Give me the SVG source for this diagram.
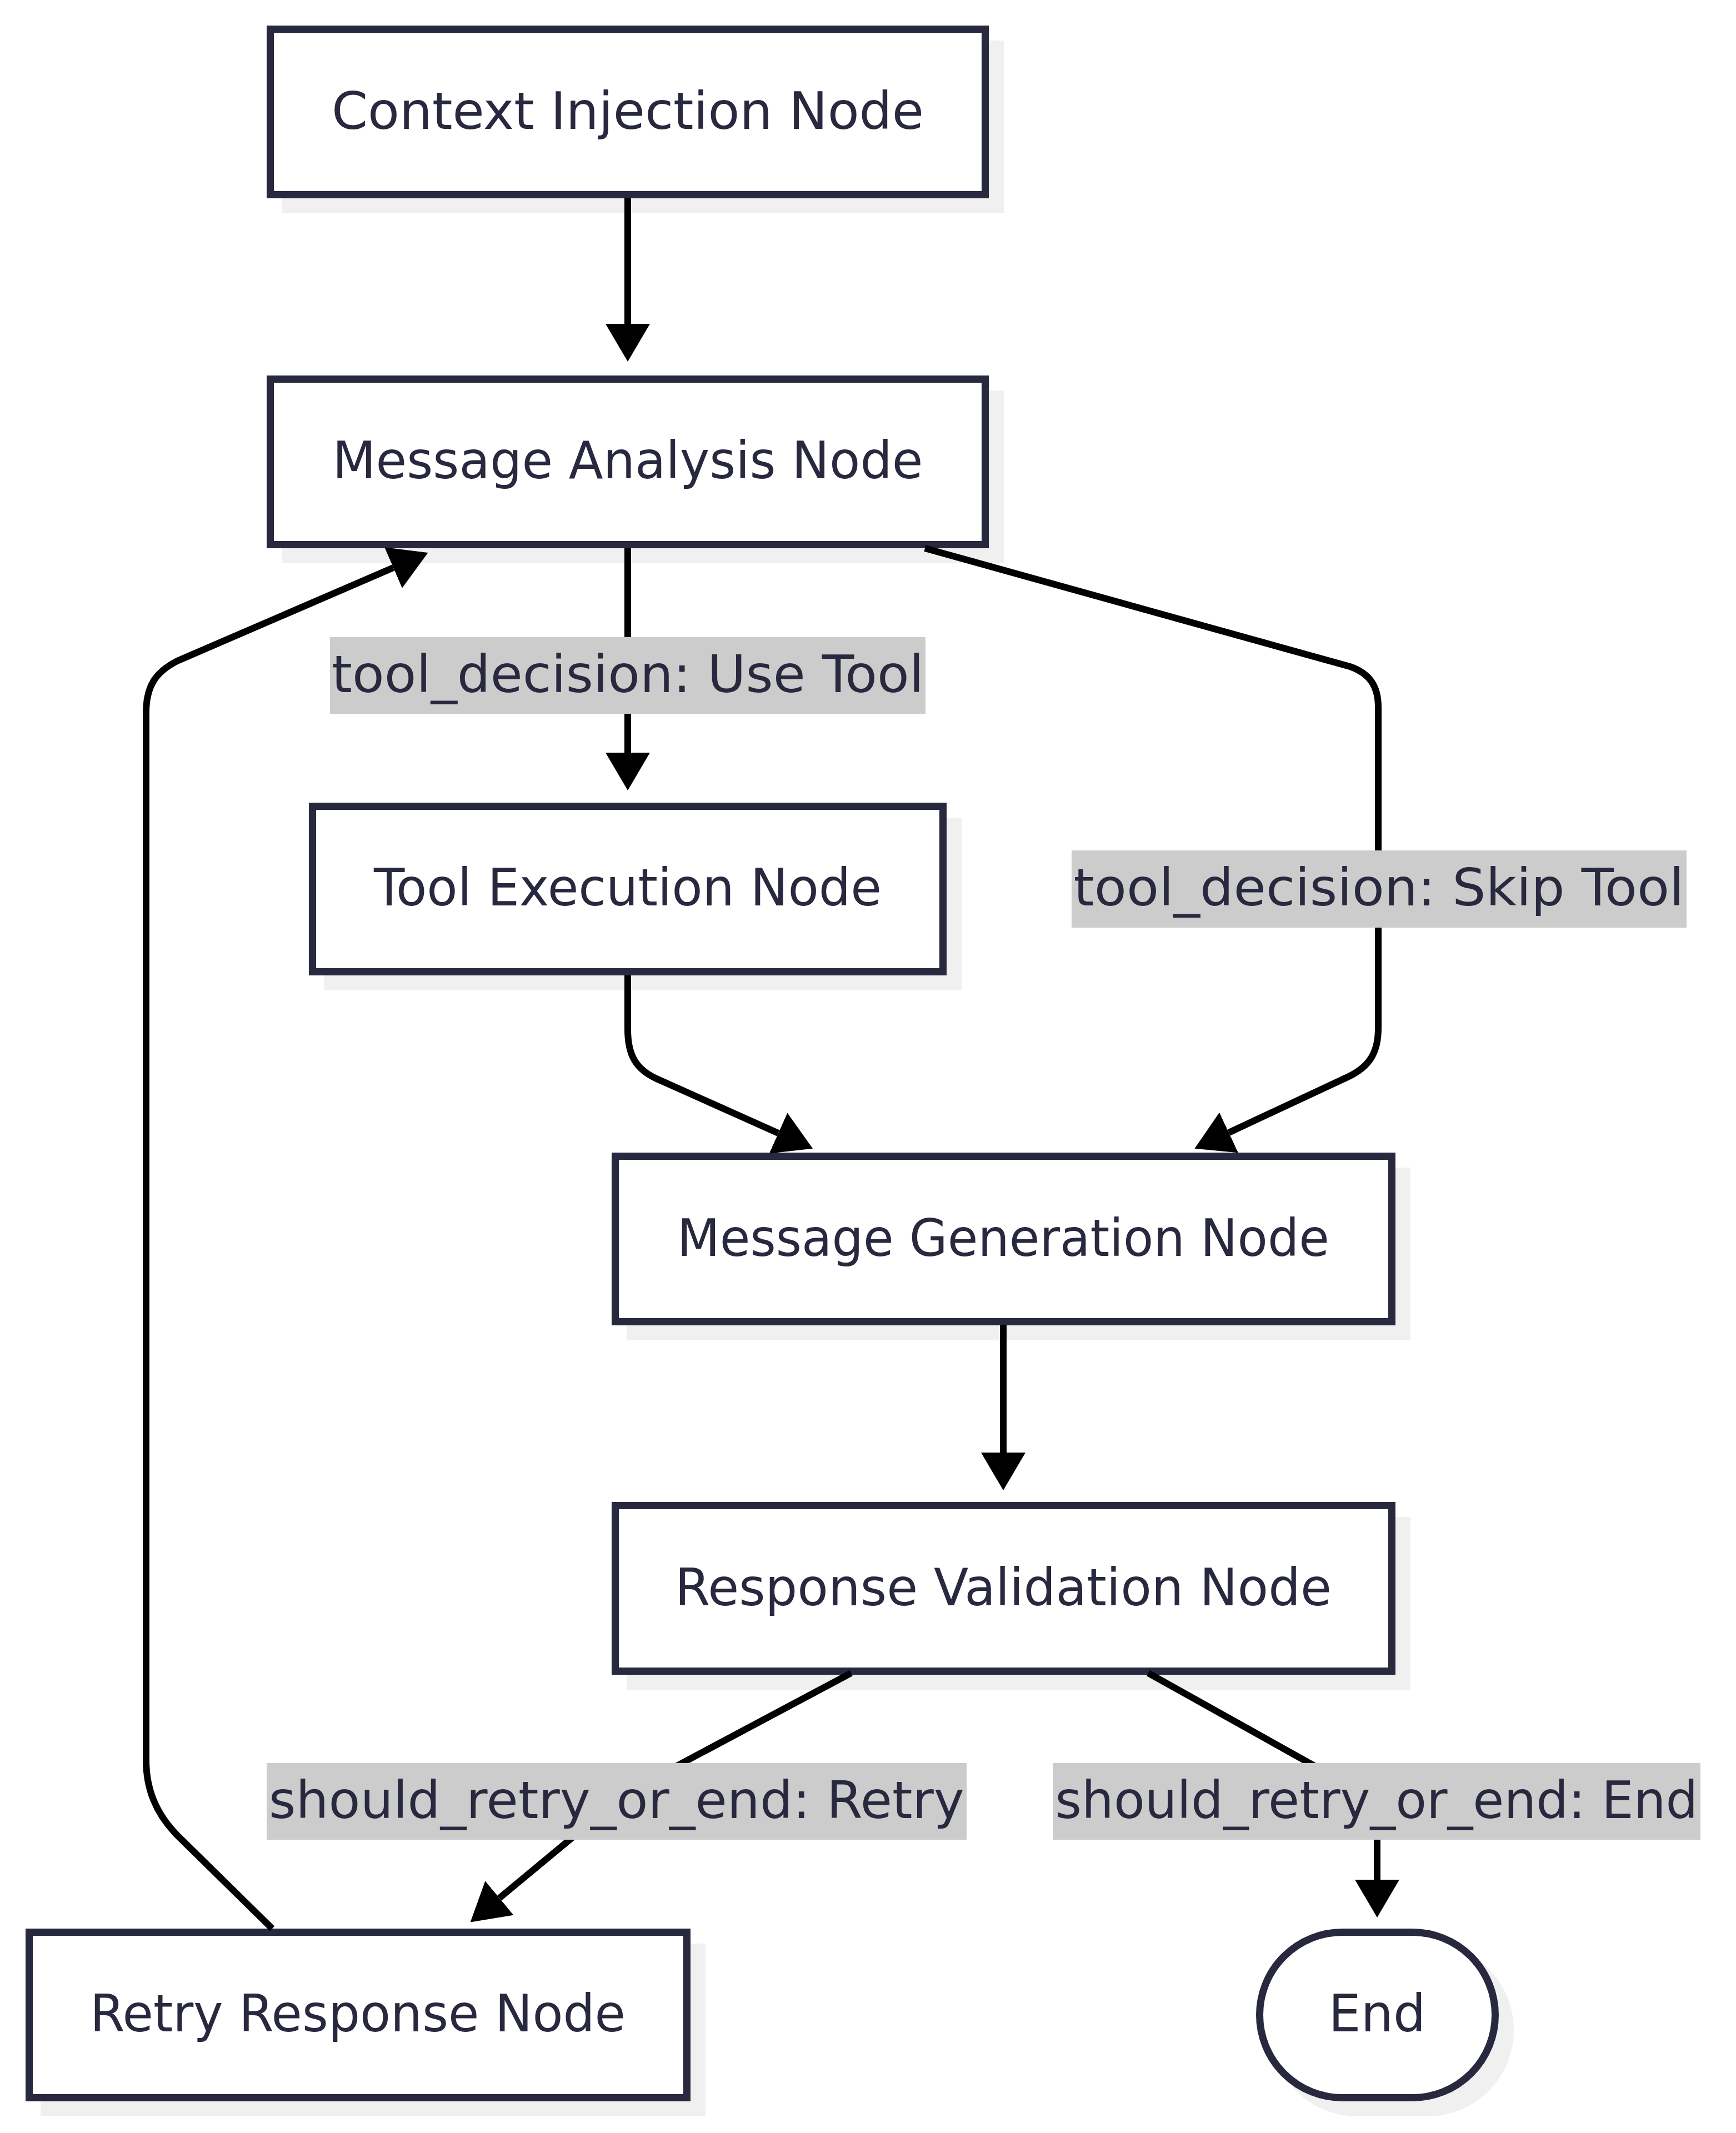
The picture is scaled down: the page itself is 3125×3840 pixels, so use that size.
<svg xmlns="http://www.w3.org/2000/svg" width="3125" height="3840" viewBox="0 0 3125 3840">
<style>
.shadow{fill:#f0f0f0;stroke:none}
.box{fill:#ffffff;stroke:#28283e;stroke-width:13}
.txt{font-family:"DejaVu Sans","Liberation Sans",sans-serif;font-size:92px;fill:#28283e;text-anchor:middle}
.edge{fill:none;stroke:#000000;stroke-width:12}
.lblbg{fill:#cccccc;stroke:none}
</style>
<defs>
<marker id="arrow" viewBox="0 0 10 10" refX="0" refY="5" markerUnits="userSpaceOnUse" markerWidth="68" markerHeight="80" preserveAspectRatio="none" orient="auto">
<path d="M0,0 L10,5 L0,10 z" fill="#000000"/>
</marker>
</defs>
<rect width="3125" height="3840" fill="#ffffff"/>

<g id="node-context-injection">
<rect class="shadow" x="507" y="73" width="1300" height="311"/>
<rect class="box" x="486.5" y="52.5" width="1287" height="298"/>
<text class="txt" x="1130" y="232" textLength="1066" lengthAdjust="spacingAndGlyphs">Context Injection Node</text>
</g>
<g id="node-message-analysis">
<rect class="shadow" x="507" y="703" width="1300" height="311"/>
<rect class="box" x="486.5" y="682.5" width="1287" height="298"/>
<text class="txt" x="1130" y="861" textLength="1063" lengthAdjust="spacingAndGlyphs">Message Analysis Node</text>
</g>
<g id="node-tool-execution">
<rect class="shadow" x="583" y="1472" width="1148" height="311"/>
<rect class="box" x="562.5" y="1451.5" width="1135" height="298"/>
<text class="txt" x="1130" y="1630" textLength="914" lengthAdjust="spacingAndGlyphs">Tool Execution Node</text>
</g>
<g id="node-message-generation">
<rect class="shadow" x="1128" y="2102" width="1411" height="311"/>
<rect class="box" x="1107.5" y="2081.5" width="1398" height="298"/>
<text class="txt" x="1806" y="2261" textLength="1174" lengthAdjust="spacingAndGlyphs">Message Generation Node</text>
</g>
<g id="node-response-validation">
<rect class="shadow" x="1128" y="2731" width="1411" height="311"/>
<rect class="box" x="1107.5" y="2710.5" width="1398" height="298"/>
<text class="txt" x="1806" y="2890" textLength="1182" lengthAdjust="spacingAndGlyphs">Response Validation Node</text>
</g>
<g id="node-retry-response">
<rect class="shadow" x="73" y="3499" width="1197" height="311"/>
<rect class="box" x="52.5" y="3478.5" width="1184" height="298"/>
<text class="txt" x="644" y="3657" textLength="964" lengthAdjust="spacingAndGlyphs">Retry Response Node</text>
</g>
<g id="node-end">
<rect class="shadow" x="2288" y="3499" width="437" height="311" rx="155" ry="155"/>
<rect class="box" x="2267.5" y="3478.5" width="424" height="298" rx="149" ry="149"/>
<text class="txt" x="2479" y="3657">End</text>
</g>

<g id="connectors">
<path class="edge" d="M1130,357 L1130,583" marker-end="url(#arrow)"/>
<path class="edge" d="M1130,987 L1130,1355" marker-end="url(#arrow)"/>
<path class="edge" d="M1665,987 L2430,1200 C2465,1212 2481,1235 2481,1273 L2481,1851 C2481,1895 2465,1920 2428,1938 L2212,2039" marker-end="url(#arrow)"/>
<path class="edge" d="M1130,1756 L1130,1853 C1130,1900 1145,1925 1182,1942 L1401,2040" marker-end="url(#arrow)"/>
<path class="edge" d="M1806,2385 L1806,2615" marker-end="url(#arrow)"/>
<path class="edge" d="M1532,3012 L1228,3174 C1150,3215 1080,3265 1040,3300 L899,3417" marker-end="url(#arrow)"/>
<path class="edge" d="M2067,3012 L2357,3174 C2440,3220 2479,3260 2479,3312 L2479,3384" marker-end="url(#arrow)"/>
<path class="edge" d="M490,3472 L319,3304 C280,3264 263,3220 263,3168 L263,1283 C263,1235 280,1210 319,1190 L708,1022" marker-end="url(#arrow)"/>
</g>

<g id="edge-labels">
<g id="label-use-tool">
<rect class="lblbg" x="594" y="1147" width="1072" height="138"/>
<text class="txt" x="1130" y="1246" textLength="1066" lengthAdjust="spacingAndGlyphs">tool_decision: Use Tool</text>
</g>
<g id="label-skip-tool">
<rect class="lblbg" x="1929" y="1531" width="1107" height="139"/>
<text class="txt" x="2482" y="1630" textLength="1099" lengthAdjust="spacingAndGlyphs">tool_decision: Skip Tool</text>
</g>
<g id="label-retry">
<rect class="lblbg" x="480" y="3174" width="1260" height="138"/>
<text class="txt" x="1110" y="3273" textLength="1252" lengthAdjust="spacingAndGlyphs">should_retry_or_end: Retry</text>
</g>
<g id="label-end">
<rect class="lblbg" x="1895" y="3174" width="1166" height="138"/>
<text class="txt" x="2478" y="3273" textLength="1157" lengthAdjust="spacingAndGlyphs">should_retry_or_end: End</text>
</g>
</g>
</svg>
